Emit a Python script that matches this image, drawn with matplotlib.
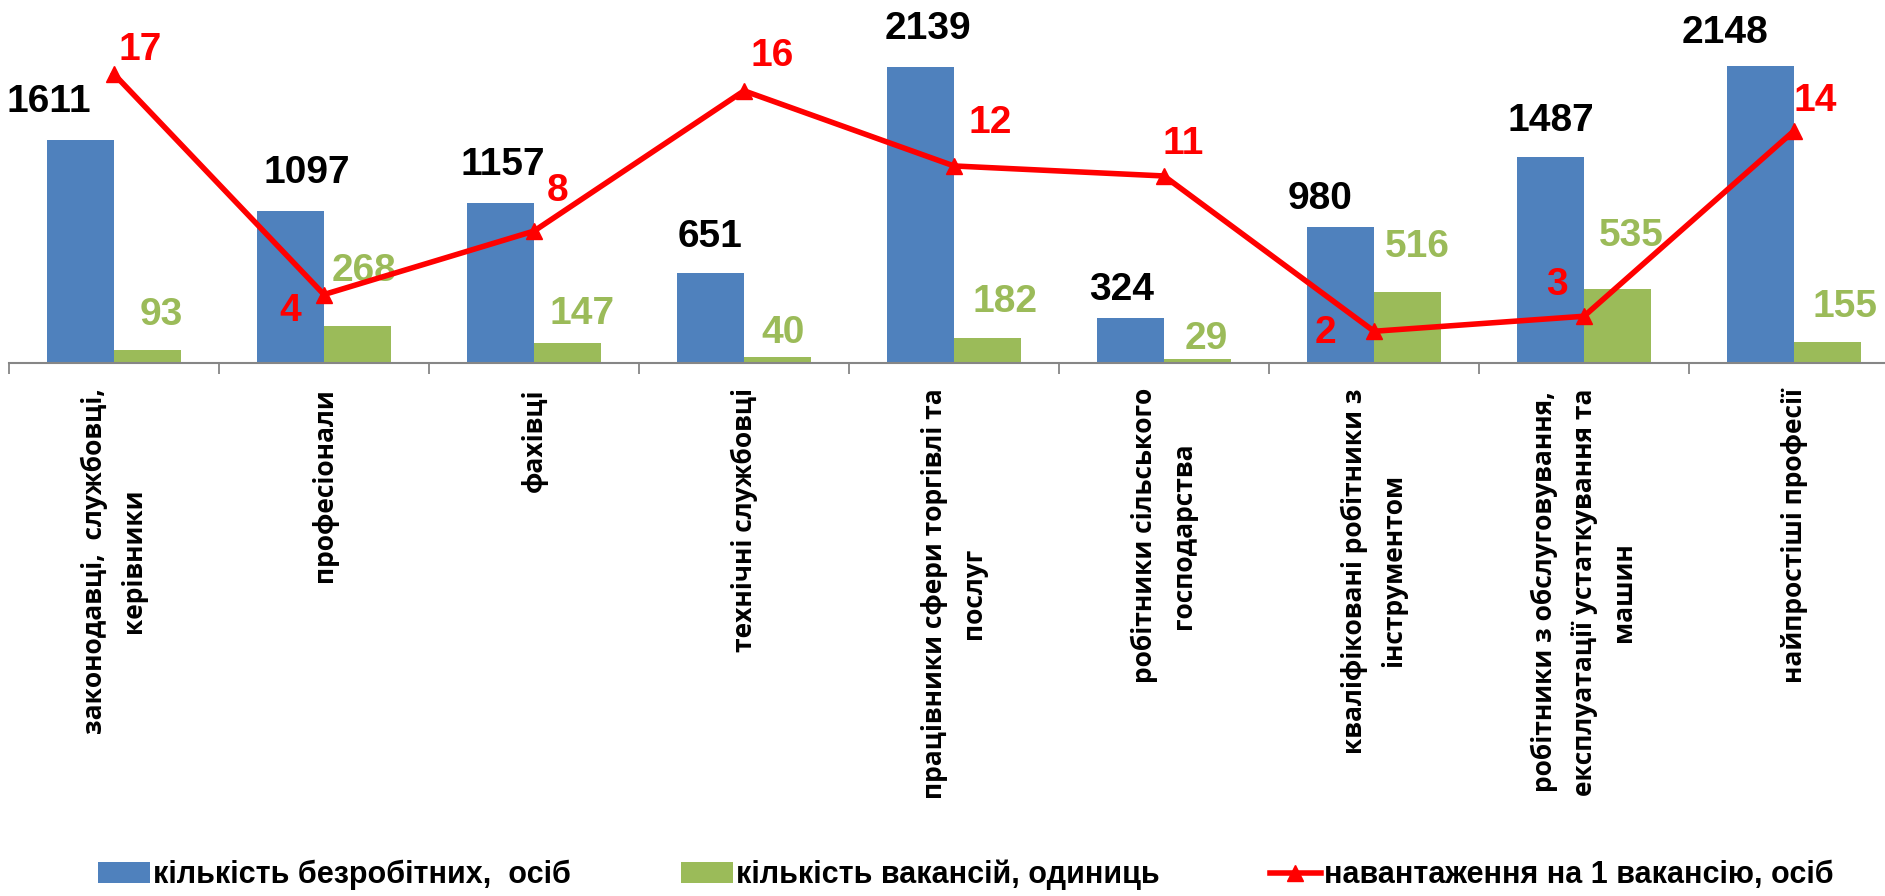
import matplotlib
matplotlib.use("Agg")
import matplotlib.pyplot as plt
from matplotlib import font_manager
from matplotlib.lines import Line2D
from matplotlib.patches import Patch

# 1. Data
# -----------------------------------------------------------------------------
categories = [
    'законодавці,  службовці,\nкерівники',
    'професіонали',
    'фахівці',
    'технічні службовці',
    'працівники сфери торгівлі та\nпослуг',
    'робітники сільського\nгосподарства',
    'кваліфіковані робітники з\nінструментом',
    'робітники з обслуговування,\nексплуатації устаткування та\nмашин',
    'найпростіші професії',
]
unemployed = [1611, 1097, 1157, 651, 2139, 324, 980, 1487, 2148]
vacancies = [93, 268, 147, 40, 182, 29, 516, 535, 155]
load_per_vacancy = [17.3, 4.1, 7.9, 16.3, 11.8, 11.2, 1.9, 2.8, 13.9]

legend_labels = ['кількість безробітних,  осіб',
                 'кількість вакансій, одиниць',
                 'навантаження на 1 вакансію, осіб']

# label offsets in pixels (dx, dy), hand placed like in the original
blue_offsets = [(-32, 38), (16, 38), (2, 38), (-1, 36), (7, 38), (-9, 28), (-21, 28), (0, 36), (-36, 33)]
green_offsets = [(14, 35), (7, 55), (15, 29), (6, 24), (18, 36), (9, 20), (10, 45), (14, 53), (18, 35)]
red_offsets = [(26, 24), (-34, -16), (24, 40), (28, 35), (36, 43), (19, 32), (-49, -2), (-27, 31), (21, 30)]

# 2. Fonts and colours
# -----------------------------------------------------------------------------
installed = {f.name for f in font_manager.fontManager.ttflist}
narrow = 'Liberation Sans Narrow' if 'Liberation Sans Narrow' in installed else 'Liberation Sans'
tick_font = 'Open Sans' if 'Open Sans' in installed else 'DejaVu Sans'

blue = '#4F81BD'
green = '#9BBB59'
red = '#FF0000'
axis_grey = '#868686'

# 3. Plot
# -----------------------------------------------------------------------------
fig = plt.figure(figsize=(18.85, 8.96), dpi=100)
ax = fig.add_axes([9 / 1885, 533 / 896, 1890 / 1885, 346 / 896])
ax2 = ax.twinx()

x = list(range(len(categories)))
w = 0.317
ax.bar([i - w / 2 for i in x], unemployed, width=w, color=blue, zorder=2)
ax.bar([i + w / 2 for i in x], vacancies, width=w, color=green, zorder=2)
ax2.plot(x, load_per_vacancy, color=red, lw=4, marker='^', markersize=11, zorder=3)

ax.set_xlim(-0.5, len(categories) - 0.5)
ax.set_ylim(0, 2500)
ax2.set_ylim(0, 20.72)

for spine in ['left', 'right', 'top']:
    ax.spines[spine].set_visible(False)
for spine in ax2.spines.values():
    spine.set_visible(False)
ax.spines['bottom'].set_color(axis_grey)
ax.spines['bottom'].set_linewidth(1.5)
ax.set_yticks([])
ax2.set_yticks([])

# tick marks between categories, labels at the centres
ax.set_xticks([i - 0.5 for i in range(len(categories) + 1)], minor=True)
ax.tick_params(axis='x', which='minor', length=8, width=1.3, color=axis_grey, direction='out')
ax.set_xticks(x)
ax.set_xticklabels(categories, rotation=90, ha='center', va='top', multialignment='center',
                   linespacing=1.6, fontsize=19, fontweight='bold', family=tick_font, color='black')
ax.tick_params(axis='x', which='major', length=0, pad=18)

# data labels
for i in x:
    ax.annotate(str(unemployed[i]), xy=(i - w / 2, unemployed[i]), xytext=blue_offsets[i],
                textcoords='offset pixels', ha='center', va='center',
                fontsize=28, fontweight='bold', family=narrow, color='black')
    ax.annotate(str(vacancies[i]), xy=(i + w / 2, vacancies[i]), xytext=green_offsets[i],
                textcoords='offset pixels', ha='center', va='center',
                fontsize=28, fontweight='bold', family=narrow, color=green)
    ax2.annotate(f'{load_per_vacancy[i]:.0f}', xy=(i, load_per_vacancy[i]), xytext=red_offsets[i],
                 textcoords='offset pixels', ha='center', va='center',
                 fontsize=28, fontweight='bold', family=narrow, color=red)

# legend
handles = [Patch(facecolor=blue), Patch(facecolor=green),
           Line2D([], [], color=red, lw=4, marker='^', markersize=11)]
fig.legend(handles, legend_labels, loc='center', bbox_to_anchor=(0.5125, 0.0234), ncol=3,
           frameon=False, handlelength=1.7, handleheight=0.7, handletextpad=0.1,
           columnspacing=3.6, borderpad=0,
           prop={'family': narrow, 'weight': 'bold', 'size': 22})

fig.savefig('out.png', dpi=100)
